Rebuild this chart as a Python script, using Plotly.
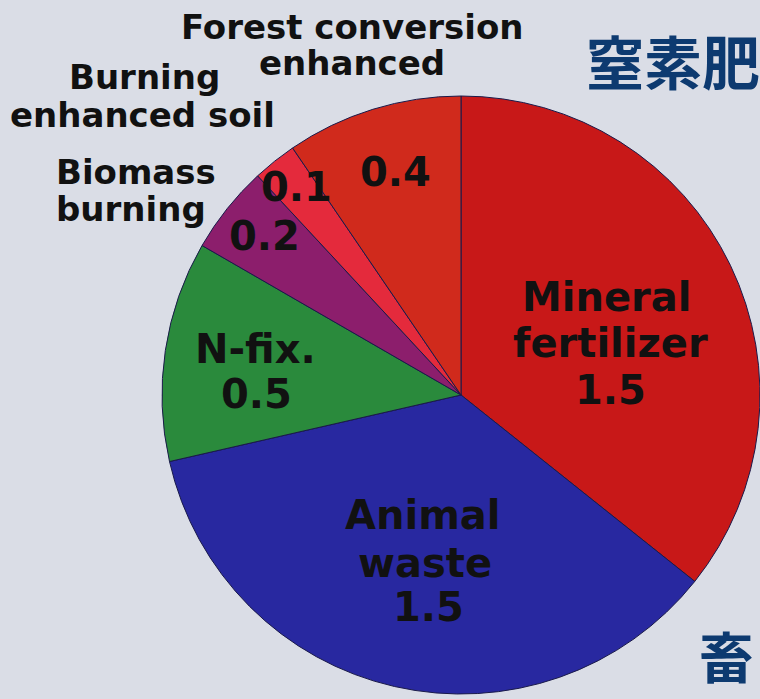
import plotly.graph_objects as go

# ---- data ----
categories = ["Mineral fertilizer", "Animal waste", "N-fix.", "Biomass burning",
              "Burning enhanced soil", "Forest conversion enhanced"]
values = [1.5, 1.5, 0.5, 0.2, 0.1, 0.4]
value_labels = ["1.5", "1.5", "0.5", "0.2", "0.1", "0.4"]
colors = ["#c81818", "#2828a0", "#2a8a3c", "#8c1e6c", "#e42a3c", "#d02a1c"]

W, H = 760, 699

def px(x):
    return x / W

def py(y):
    return 1 - y / H

fig = go.Figure()
fig.add_trace(go.Pie(
    labels=categories,
    values=values,
    sort=False,
    direction="clockwise",
    rotation=0,
    marker=dict(colors=colors, line=dict(color="#1a1a4a", width=1)),
    textinfo="none",
    hoverinfo="skip",
    domain=dict(x=[px(162), px(760)], y=[py(694), py(96)]),
    showlegend=False,
))

OUT = dict(family="DejaVu Sans", size=34, color="#111111")
INN = dict(family="DejaVu Sans", size=40, color="#111111")

annotations = []

def add(text, x, y, font, xanchor="center"):
    annotations.append(dict(text="<b>" + text + "</b>", x=px(x), y=py(y),
                            xref="paper", yref="paper", showarrow=False,
                            xanchor=xanchor, yanchor="middle", font=font))

# outside labels
add("Forest conversion", 352, 27, OUT)
add("enhanced", 352, 63, OUT)
add("Burning", 144, 77, OUT)
add("enhanced soil", 142, 115, OUT)
add("Biomass", 54, 172, OUT, xanchor="left")
add("burning", 54, 209, OUT, xanchor="left")

# inside labels
add(value_labels[5], 395, 172, INN)
add(value_labels[4], 296, 187, INN)
add(value_labels[3], 264, 236, INN)
add("N-fix.", 255, 349, INN)
add(value_labels[2], 256, 394, INN)
add("Mineral", 607, 297, INN)
add("fertilizer", 610, 343, INN)
add(value_labels[0], 610, 390, INN)
add("Animal", 423, 515, INN)
add("waste", 425, 563, INN)
add(value_labels[1], 428, 607, INN)

# Japanese slide text
JP = dict(family="Noto Sans CJK JP", size=58, color="#0d3a70")
annotations.append(dict(text="<b>窒素肥</b>", x=px(584), y=py(60), xref="paper", yref="paper",
                        showarrow=False, xanchor="left", yanchor="middle", font=JP))
annotations.append(dict(text="<b>畜</b>", x=px(697), y=py(654),
                        xref="paper", yref="paper", showarrow=False,
                        xanchor="left", yanchor="middle",
                        font=dict(family="Noto Sans CJK JP", size=55, color="#0d3a70")))

fig.update_layout(
    width=W, height=H,
    margin=dict(l=0, r=0, t=0, b=0),
    paper_bgcolor="#dadde6",
    plot_bgcolor="#dadde6",
    annotations=annotations,
    showlegend=False,
)

fig.write_html("out.html", config={"displayModeBar": False},
               post_script="document.body.style.margin='0';document.body.style.overflow='hidden';")
